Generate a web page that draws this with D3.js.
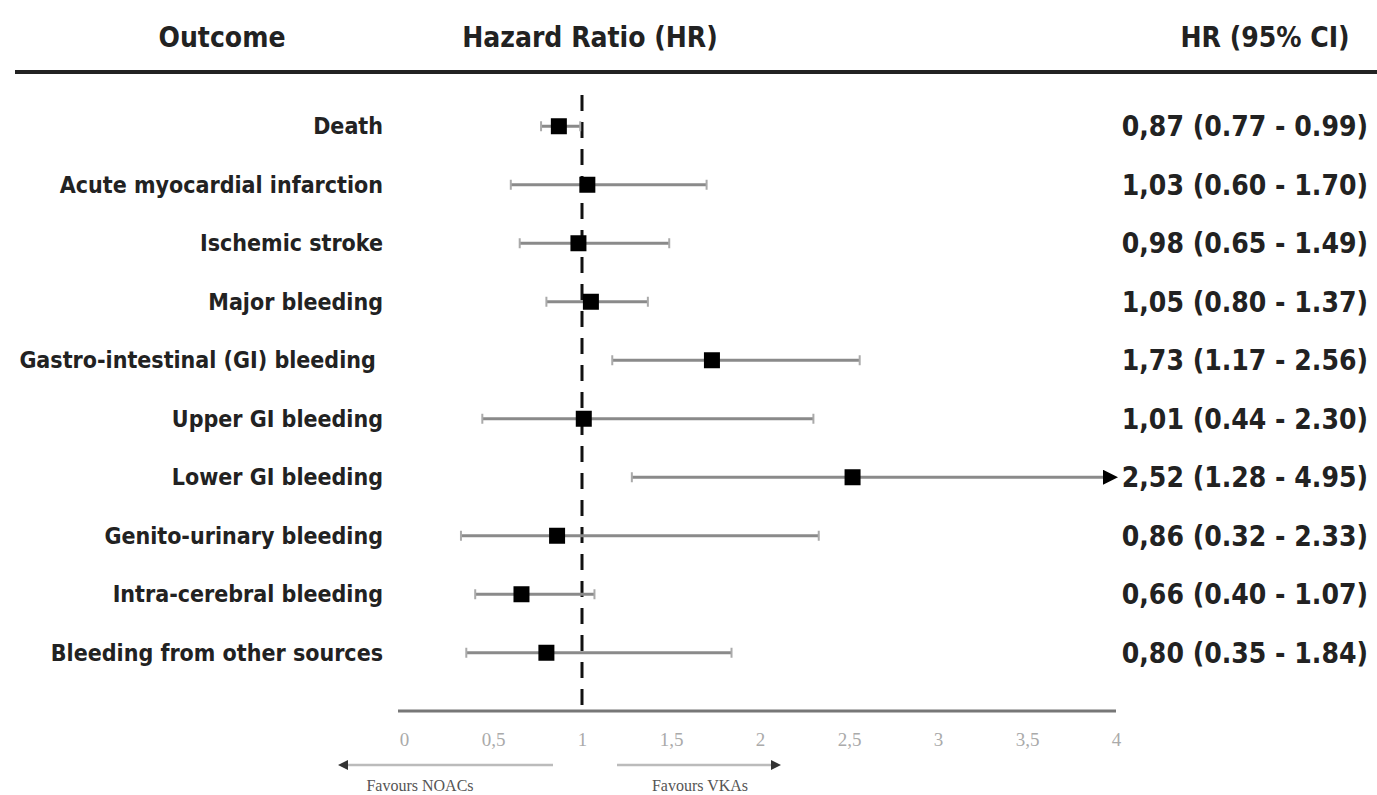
<!DOCTYPE html>
<html>
<head>
<meta charset="utf-8">
<script src="https://cdn.jsdelivr.net/npm/d3@7"></script>
<style>
  body { margin: 0; background: #fff; }
  text { font-family: "Liberation Sans Narrow", "DejaVu Sans Condensed", "Open Sans", sans-serif; }
</style>
</head>
<body>
<script>
// Data
const outcomes = ["Death", "Acute myocardial infarction", "Ischemic stroke", "Major bleeding",
  "Gastro-intestinal (GI) bleeding ", "Upper GI bleeding", "Lower GI bleeding",
  "Genito-urinary bleeding", "Intra-cerebral bleeding", "Bleeding from other sources"];
const hr = [0.87, 1.03, 0.98, 1.05, 1.73, 1.01, 2.52, 0.86, 0.66, 0.80];
const lower = [0.77, 0.60, 0.65, 0.80, 1.17, 0.44, 1.28, 0.32, 0.40, 0.35];
const upper = [0.99, 1.70, 1.49, 1.37, 2.56, 2.30, 4.95, 2.33, 1.07, 1.84];
const hrLabels = ["0,87 (0.77 - 0.99)", "1,03 (0.60 - 1.70)", "0,98 (0.65 - 1.49)", "1,05 (0.80 - 1.37)",
  "1,73 (1.17 - 2.56)", "1,01 (0.44 - 2.30)", "2,52 (1.28 - 4.95)", "0,86 (0.32 - 2.33)",
  "0,66 (0.40 - 1.07)", "0,80 (0.35 - 1.84)"];
const ticks = [0, 0.5, 1, 1.5, 2, 2.5, 3, 3.5, 4];

const W = 1377, H = 795;
const svg = d3.select("body").append("svg")
    .attr("width", W)
    .attr("height", H);

const x = d3.scaleLinear().domain([0, 4]).range([404, 1116]);
const y = d3.scaleBand().domain(d3.range(outcomes.length)).range([97, 682]);
const yc = i => y(i) + y.bandwidth() / 2;

// Headers
const headers = [["Outcome", 222], ["Hazard Ratio (HR)", 590], ["HR (95% CI)", 1265]];
svg.selectAll("text.head").data(headers).enter().append("text")
    .attr("class", "head")
    .attr("x", d => d[1]).attr("y", 47)
    .attr("text-anchor", "middle")
    .style("font-size", "28px").style("font-weight", "bold").style("fill", "#222")
    .text(d => d[0]);

svg.append("line")
    .attr("x1", 15).attr("x2", W).attr("y1", 72).attr("y2", 72)
    .style("stroke", "#222").style("stroke-width", 4);

// Dashed reference line at HR = 1
svg.append("line")
    .attr("x1", x(1)).attr("x2", x(1)).attr("y1", 95).attr("y2", 711)
    .style("stroke", "#111").style("stroke-width", 3).style("stroke-dasharray", "16,11");

// Axis
const axis = svg.append("g").attr("transform", "translate(0,711)")
    .call(d3.axisBottom(x).tickValues(ticks).tickSize(0).tickPadding(22)
        .tickFormat(d => String(d).replace(".", ",")));
axis.select(".domain").attr("d", `M${x(0) - 6},0H${x(4)}`).style("stroke", "#777").style("stroke-width", 3);
axis.selectAll("text")
    .style("font-family", "'Liberation Serif', serif").style("font-size", "19px").style("fill", "#aaa");

// Arrow markers
const defs = svg.append("defs");
defs.append("marker").attr("id", "arr").attr("viewBox", "0 0 10 10").attr("refX", 2).attr("refY", 5)
    .attr("markerWidth", 5).attr("markerHeight", 5).attr("orient", "auto")
    .append("path").attr("d", "M0,0L10,5L0,10Z").style("fill", "#000");
defs.append("marker").attr("id", "small").attr("viewBox", "0 0 10 10").attr("refX", 5).attr("refY", 5)
    .attr("markerWidth", 4).attr("markerHeight", 4).attr("orient", "auto")
    .append("path").attr("d", "M0,0L10,5L0,10Z").style("fill", "#333");

// Favours arrows
svg.append("line").attr("x1", 553).attr("x2", 343).attr("y1", 765).attr("y2", 765)
    .style("stroke", "#bbb").style("stroke-width", 2.5).attr("marker-end", "url(#small)");
svg.append("line").attr("x1", 617).attr("x2", 776).attr("y1", 765).attr("y2", 765)
    .style("stroke", "#bbb").style("stroke-width", 2.5).attr("marker-end", "url(#small)");
svg.append("text").attr("x", 420).attr("y", 791).attr("text-anchor", "middle")
    .style("font-family", "'Liberation Serif', serif").style("font-size", "16px").style("fill", "#555")
    .text("Favours NOACs");
svg.append("text").attr("x", 700).attr("y", 791).attr("text-anchor", "middle")
    .style("font-family", "'Liberation Serif', serif").style("font-size", "16px").style("fill", "#555")
    .text("Favours VKAs");

// Rows
const rows = svg.selectAll("g.row").data(outcomes).enter().append("g").attr("class", "row");

rows.append("text")
    .attr("x", 383).attr("y", (d, i) => yc(i) + 8)
    .attr("text-anchor", "end")
    .attr("xml:space", "preserve")
    .style("white-space", "pre")
    .style("font-size", "23px").style("font-weight", "bold").style("fill", "#222")
    .text(d => d);

const xMax = 4;
rows.append("line")
    .attr("x1", (d, i) => x(lower[i]))
    .attr("x2", (d, i) => upper[i] > xMax ? x(xMax) - 10 : x(upper[i]))
    .attr("y1", (d, i) => yc(i)).attr("y2", (d, i) => yc(i))
    .style("stroke", "#8a8a8a").style("stroke-width", 3)
    .attr("marker-end", (d, i) => upper[i] > xMax ? "url(#arr)" : null);

// end caps
rows.append("line")
    .attr("x1", (d, i) => x(lower[i])).attr("x2", (d, i) => x(lower[i]))
    .attr("y1", (d, i) => yc(i) - 5).attr("y2", (d, i) => yc(i) + 5)
    .style("stroke", "#aaa").style("stroke-width", 2);
rows.filter((d, i) => upper[i] <= xMax).append("line")
    .attr("x1", d => x(upper[outcomes.indexOf(d)])).attr("x2", d => x(upper[outcomes.indexOf(d)]))
    .attr("y1", d => yc(outcomes.indexOf(d)) - 5).attr("y2", d => yc(outcomes.indexOf(d)) + 5)
    .style("stroke", "#aaa").style("stroke-width", 2);

rows.append("rect")
    .attr("x", (d, i) => x(hr[i]) - 8).attr("y", (d, i) => yc(i) - 8)
    .attr("width", 16).attr("height", 16)
    .style("fill", "#000");

rows.append("text")
    .attr("x", 1368).attr("y", (d, i) => yc(i) + 10)
    .attr("text-anchor", "end")
    .style("font-size", "28px").style("font-weight", "bold").style("fill", "#222")
    .text((d, i) => hrLabels[i]);
</script>
</body>
</html>
